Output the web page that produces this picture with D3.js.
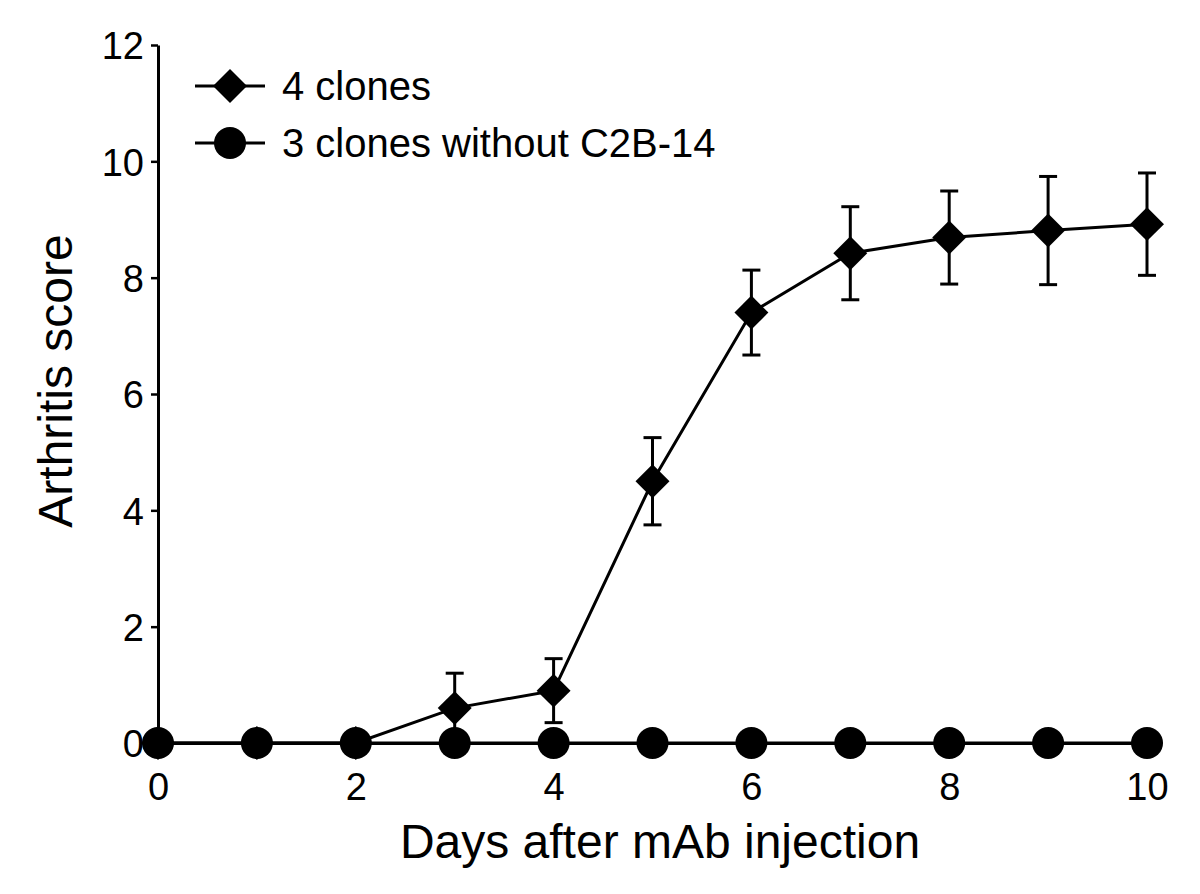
<!DOCTYPE html>
<html>
<head>
<meta charset="utf-8">
<script src="https://cdn.jsdelivr.net/npm/d3@7/dist/d3.min.js"></script>
<style>
  body { margin: 0; background: #fff; }
  text { font-family: "Liberation Sans", Arial, sans-serif; fill: #000; }
</style>
</head>
<body>
<div id="chart"></div>
<script>
// data
var days = [0, 1, 2, 3, 4, 5, 6, 7, 8, 9, 10];
var fourClones = [0, 0, 0, 0.6, 0.9, 4.5, 7.4, 8.42, 8.69, 8.81, 8.92];
var fourClonesErr = [0, 0, 0, 0.6, 0.55, 0.75, 0.73, 0.8, 0.8, 0.93, 0.88];
var threeClones = [0, 0, 0, 0, 0, 0, 0, 0, 0, 0, 0];
var xTicks = [0, 2, 4, 6, 8, 10];
var yTicks = [0, 2, 4, 6, 8, 10, 12];
var seriesNames = ["4 clones", "3 clones without C2B-14"];

var svgWidth = 1200;
var svgHeight = 894;

var margin = {
    top: 45,
    right: 53,
    bottom: 151,
    left: 158
};

var width = svgWidth - margin.left - margin.right;
var height = svgHeight - margin.top - margin.bottom;

var svg = d3.select("#chart")
    .append("svg")
    .attr("width", svgWidth)
    .attr("height", svgHeight);

var chartGroup = svg.append("g")
    .attr("transform", `translate(${margin.left}, ${margin.top})`);

var xScale = d3.scaleLinear()
    .domain([0, 10])
    .range([0, width]);

var yScale = d3.scaleLinear()
    .domain([0, 12])
    .range([height, 0]);

// axes
var leftAxis = d3.axisLeft(yScale)
    .tickValues(yTicks)
    .tickSize(7)
    .tickSizeOuter(0)
    .tickPadding(7);

var bottomAxis = d3.axisBottom(xScale)
    .tickValues(xTicks)
    .tickSize(0)
    .tickPadding(30);

var xAxisG = chartGroup.append("g")
    .attr("transform", `translate(0, ${height})`)
    .call(bottomAxis);
xAxisG.select(".domain").attr("stroke", "#000").attr("stroke-width", 3);
xAxisG.selectAll("text").style("font-size", "38px");

var yAxisG = chartGroup.append("g")
    .call(leftAxis);
yAxisG.select(".domain").attr("stroke", "#000").attr("stroke-width", 3);
yAxisG.selectAll(".tick line").attr("stroke", "#000").attr("stroke-width", 2.5);
yAxisG.selectAll("text").style("font-size", "38px").attr("dy", "0.36em");

var pts4 = days.map((d, i) => ({ day: d, v: fourClones[i], e: fourClonesErr[i] }));
var pts3 = days.map((d, i) => ({ day: d, v: threeClones[i] }));

var line = d3.line()
    .x(d => xScale(d.day))
    .y(d => yScale(d.v));

// error bars (upper and lower)
var errG = chartGroup.append("g")
    .attr("stroke", "#000")
    .attr("stroke-width", 3);
pts4.filter(d => d.e > 0).forEach(function(d) {
    var cx = xScale(d.day);
    [d.v + d.e, d.v - d.e].forEach(function(end) {
        errG.append("line")
            .attr("x1", cx).attr("x2", cx)
            .attr("y1", yScale(d.v)).attr("y2", yScale(end));
        errG.append("line")
            .attr("x1", cx - 9).attr("x2", cx + 9)
            .attr("y1", yScale(end)).attr("y2", yScale(end));
    });
});

chartGroup.append("path")
    .datum(pts4)
    .attr("fill", "none")
    .attr("stroke", "#000")
    .attr("stroke-width", 3)
    .attr("d", line);

var diamond = d3.symbol().type(d3.symbolSquare).size(24 * 24);

chartGroup.selectAll(".dia")
    .data(pts4)
    .enter()
    .append("path")
    .attr("class", "dia")
    .attr("d", diamond)
    .attr("transform", d => `translate(${xScale(d.day)}, ${yScale(d.v)}) rotate(45)`)
    .attr("fill", "#000");

chartGroup.append("path")
    .datum(pts3)
    .attr("fill", "none")
    .attr("stroke", "#000")
    .attr("stroke-width", 3)
    .attr("d", line);

chartGroup.selectAll(".dot")
    .data(pts3)
    .enter()
    .append("circle")
    .attr("class", "dot")
    .attr("cx", d => xScale(d.day))
    .attr("cy", d => yScale(d.v))
    .attr("r", 16)
    .attr("fill", "#000");

// legend
var legend = svg.append("g")
    .attr("transform", "translate(195, 86)");

legend.append("line")
    .attr("x1", 0).attr("x2", 70).attr("y1", 0).attr("y2", 0)
    .attr("stroke", "#000").attr("stroke-width", 3);
legend.append("path")
    .attr("d", diamond)
    .attr("transform", "translate(35, 0) rotate(45)")
    .attr("fill", "#000");
legend.append("text")
    .attr("x", 87).attr("y", 0).attr("dy", "0.36em")
    .style("font-size", "40px")
    .text(seriesNames[0]);

legend.append("line")
    .attr("x1", 0).attr("x2", 70).attr("y1", 57).attr("y2", 57)
    .attr("stroke", "#000").attr("stroke-width", 3);
legend.append("circle")
    .attr("cx", 35).attr("cy", 57).attr("r", 16)
    .attr("fill", "#000");
legend.append("text")
    .attr("x", 87).attr("y", 57).attr("dy", "0.36em")
    .style("font-size", "40px")
    .text(seriesNames[1]);

// axis titles
svg.append("text")
    .attr("x", 660)
    .attr("y", 858)
    .style("text-anchor", "middle")
    .style("font-size", "48px")
    .text("Days after mAb injection");

svg.append("text")
    .attr("transform", "rotate(-90)")
    .attr("x", -381)
    .attr("y", 72)
    .style("text-anchor", "middle")
    .style("font-size", "48px")
    .text("Arthritis score");
</script>
</body>
</html>
